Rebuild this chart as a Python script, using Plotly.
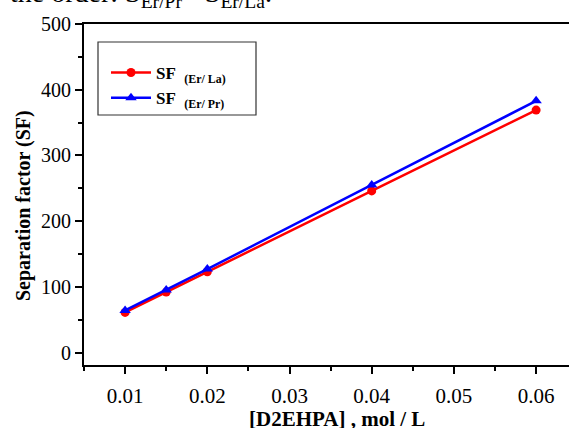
import plotly.graph_objects as go

conc = [0.01, 0.015, 0.02, 0.04, 0.06]
sf_er_la = [61, 92, 123, 246, 369]
sf_er_pr = [64, 95, 127, 255, 383]

x_ticks = [0.01, 0.02, 0.03, 0.04, 0.05, 0.06]
x_ticktext = ["0.01", "0.02", "0.03", "0.04", "0.05", "0.06"]
y_ticks = [0, 100, 200, 300, 400, 500]

FONT = "Liberation Serif, Times New Roman, serif"
W, H = 569, 428
L, R, T, B = 84, 0, 24, 63  # plot area: x 84..569, y 24..365

fig = go.Figure()
fig.add_trace(go.Scatter(
    x=conc, y=sf_er_la, mode="lines+markers",
    name="<b>SF&nbsp; <sub>(Er/ La)</sub></b>",
    line=dict(color="#ff0000", width=2.5),
    marker=dict(symbol="circle", size=9, color="#ff0000"),
))
fig.add_trace(go.Scatter(
    x=conc, y=sf_er_pr, mode="lines+markers",
    name="<b>SF&nbsp; <sub>(Er/ Pr)</sub></b>",
    line=dict(color="#0000ff", width=2.5),
    marker=dict(symbol="triangle-up", size=10, color="#0000ff"),
))

pw = W - L - R
ph = H - T - B
def px(x):
    return (x - L) / pw
def py(y):
    return (H - B - y) / ph

fig.add_shape(type="rect", xref="paper", yref="paper",
              x0=px(98), x1=px(256), y0=py(115), y1=py(42),
              line=dict(color="#333333", width=1.2), fillcolor="rgba(0,0,0,0)")

# cropped caption fragment at the very top
fig.add_annotation(
    xref="paper", yref="paper", x=px(8), y=1, xanchor="left", yanchor="bottom",
    yshift=10, showarrow=False,
    text="the order: S<sub>Er/Pr</sub>&gt; S<sub>Er/La</sub>.",
    font=dict(family=FONT, size=28, color="black"),
)

# y-axis title
fig.add_annotation(
    xref="paper", yref="paper", x=px(23), y=py(206), xanchor="center", yanchor="middle",
    textangle=-90, showarrow=False,
    text="<b>Separation factor (SF)</b>",
    font=dict(family=FONT, size=20, color="black"),
)

# x-axis title
fig.add_annotation(
    xref="paper", yref="paper", x=px(337), y=py(419), xanchor="center", yanchor="middle",
    showarrow=False,
    text="<b>[D2EHPA] , mol / L</b>",
    font=dict(family=FONT, size=21, color="black"),
)

fig.update_layout(
    width=W, height=H,
    margin=dict(l=L, r=R, t=T, b=B, autoexpand=False),
    paper_bgcolor="white", plot_bgcolor="white",
    font=dict(family=FONT, color="black"),
    showlegend=True,
    legend=dict(
        x=px(106), y=py(55), xanchor="left", yanchor="top",
        bgcolor="rgba(0,0,0,0)", borderwidth=0,
        font=dict(family=FONT, size=17, color="black"),
        itemwidth=40, tracegroupgap=0,
    ),
    xaxis=dict(
        range=[0.005, 0.064], tickvals=x_ticks, ticktext=x_ticktext,
        showgrid=False, zeroline=False,
        showline=True, linecolor="black", linewidth=2, mirror=True,
        ticks="outside", ticklen=7, tickwidth=1.5, tickcolor="black",
        minor=dict(dtick=0.01, tick0=0.005, ticks="outside", ticklen=4, tickwidth=1.5, tickcolor="black"),
        tickfont=dict(family=FONT, size=21, color="black"),
        ticklabelstandoff=4,
    ),
    yaxis=dict(
        range=[-19, 500], tickvals=y_ticks,
        showgrid=False, zeroline=False,
        showline=True, linecolor="black", linewidth=2, mirror=False,
        ticks="outside", ticklen=7, tickwidth=1.5, tickcolor="black",
        minor=dict(dtick=100, tick0=50, ticks="outside", ticklen=4, tickwidth=1.5, tickcolor="black"),
        tickfont=dict(family=FONT, size=20, color="black"),
    ),
)

fig.write_html(
    "out.html",
    config={"displayModeBar": False},
    post_script="document.body.style.margin='0';document.body.style.overflow='hidden';",
)
